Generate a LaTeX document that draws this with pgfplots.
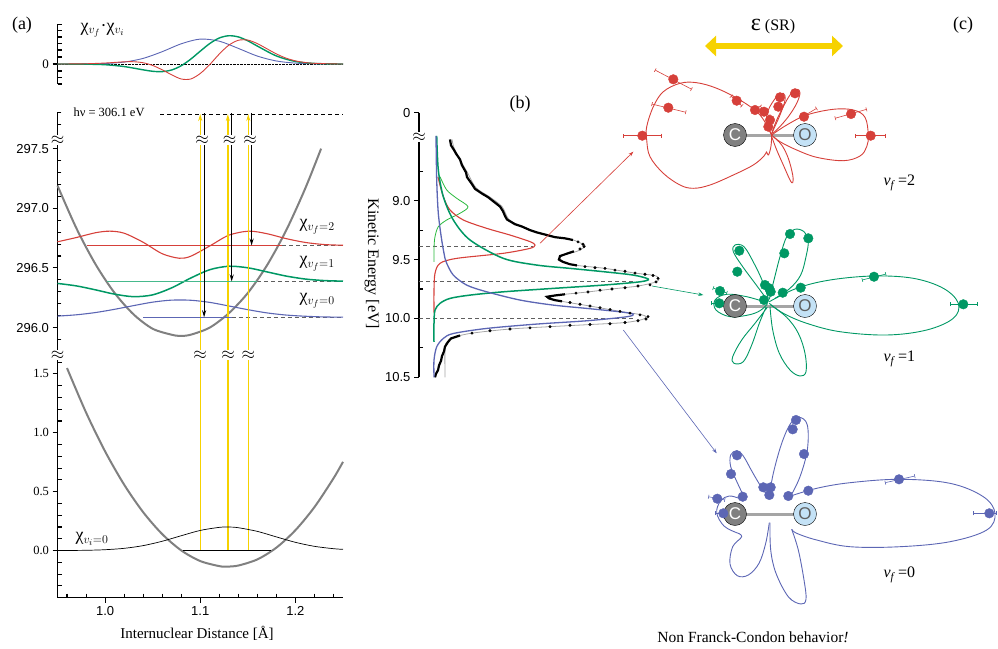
\documentclass[border=0pt]{standalone}
\usepackage{fontspec}
\setmainfont{Liberation Serif}
\setsansfont{Liberation Sans}
\usepackage{pgfplots}
\pgfplotsset{compat=1.18}
\usetikzlibrary{arrows.meta}
\definecolor{cred}{RGB}{214,64,58}
\definecolor{cgreen}{RGB}{0,152,100}
\definecolor{lgreen}{RGB}{70,185,140}
\definecolor{cblue}{RGB}{92,102,180}
\definecolor{cgray}{RGB}{128,128,128}
\definecolor{cyel}{RGB}{246,210,0}
\definecolor{clgreen}{RGB}{40,185,60}
\definecolor{oblue}{RGB}{196,226,246}
\definecolor{dgray}{RGB}{95,95,95}
\definecolor{bgray}{RGB}{165,165,165}
\newcommand{\fs}[1]{\fontsize{#1}{#1}\selectfont}
\newcommand{\brk}[2]{\node[fill=white, inner sep=0.4pt] at (axis cs:#1,#2) {\fs{16}$\approx$};}
\pgfplotsset{
  pa/.style={scale only axis, anchor=south west, clip=false,
    width=285.5pt, xmin=0.95, xmax=1.25,
    axis line style={line width=1.5pt},
    tick style={line width=1.1pt, black},
    tick align=outside, major tick length=5pt, minor tick length=-4pt},
  lobe/.style={smooth, tension=0.6, line width=0.9pt},
  ebar/.style={line width=0.6pt, arrows={Bar[width=4pt]-Bar[width=4pt]}},
  pix/.style={scale only axis, anchor=south west, at={(0pt,0pt)}, width=998pt, height=648pt,
    xmin=0, xmax=998, ymin=0, ymax=648, y dir=reverse, hide axis, clip=false},
}
\begin{document}
\begin{tikzpicture}
\useasboundingbox (0pt,0pt) rectangle (998pt,648pt);
% ---------------- (a) top: products
\begin{axis}[pa, at={(57.5pt,564pt)}, height=60pt, ymin=-20, ymax=40,
  axis x line=none, axis y line*=left, ytick={0}, yticklabels={0},
  minor ytick={-20,-13.5,-7,7,14,20.5,27,33.5,39.5},
  yticklabel style={font=\fs{13}}]
\addplot[black, densely dotted, line width=0.4pt] coordinates {(0.95,0) (1.25,0)};
\addplot[cblue, line width=0.9pt, smooth] coordinates {(0.95,0) (0.98,0.07) (1.00,0.48) (1.02,1.9) (1.04,5.6) (1.06,12.3) (1.08,20.2) (1.10,24.9) (1.12,22.8) (1.14,15.6) (1.16,7.9) (1.18,3.0) (1.20,0.86) (1.22,0.18) (1.24,0.02) (1.25,0)};
\addplot[cgreen, line width=1.4pt, smooth] coordinates {(0.95,0) (0.98,-0.2) (1.00,-0.72) (1.02,-2.54) (1.04,-5.85) (1.05,-7.3) (1.06,-7.63) (1.07,-5.97) (1.08,-1.76) (1.09,4.85) (1.10,12.82) (1.11,20.46) (1.12,26.0) (1.13,28.26) (1.14,27.07) (1.15,23.2) (1.16,17.93) (1.18,8.04) (1.20,2.50) (1.22,0.55) (1.24,0.09) (1.25,0)};
\addplot[cred, line width=0.9pt, smooth] coordinates {(0.95,0) (0.96,0.03) (0.98,0.23) (1.00,0.96) (1.01,1.57) (1.02,2.16) (1.03,2.27) (1.04,1.25) (1.05,-1.45) (1.06,-5.82) (1.07,-10.8) (1.08,-15.0) (1.09,-15.0) (1.10,-9.5) (1.11,-0.53) (1.12,9.97) (1.13,18.8) (1.14,23.7) (1.15,23.9) (1.16,20.4) (1.17,15.25) (1.18,10.1) (1.19,5.94) (1.20,3.14) (1.21,1.49) (1.22,0.64) (1.24,0.1) (1.25,0)};
\end{axis}
% ---------------- (a) middle: core-excited state
\begin{axis}[pa, at={(57.5pt,293pt)}, height=243pt, ymin=295.77, ymax=297.807,
  axis x line=none, axis y line*=left,
  ytick={296,296.5,297,297.5}, yticklabels={296.0,296.5,297.0,297.5},
  minor ytick={295.8,295.9,296.1,296.2,296.3,296.4,296.6,296.7,296.8,296.9,297.1,297.2,297.3,297.4,297.6,297.7,297.8},
  yticklabel style={font=\sffamily\fs{13}}]
\addplot[black, line width=0.7pt, dash pattern=on 4pt off 3pt] coordinates {(1.058,297.79) (1.25,297.79)};
\addplot[dgray, line width=0.7pt, dash pattern=on 4pt off 3pt] coordinates {(1.133,296.086) (1.25,296.086)};
\addplot[dgray, line width=0.7pt, dash pattern=on 4pt off 3pt] coordinates {(1.160,296.386) (1.25,296.386)};
\addplot[dgray, line width=0.7pt, dash pattern=on 4pt off 3pt] coordinates {(1.186,296.687) (1.25,296.687)};
\addplot[cgray, line width=2pt, smooth] coordinates {(0.95,297.19) (0.97,296.83) (0.99,296.53) (1.01,296.29) (1.03,296.11) (1.05,295.99) (1.07,295.94) (1.079,295.93) (1.09,295.94) (1.11,296.00) (1.13,296.12) (1.15,296.29) (1.17,296.52) (1.19,296.81) (1.21,297.16) (1.227,297.50)};
\addplot[cblue, line width=1.1pt, smooth] coordinates {(0.95,296.096) (0.97,296.107) (0.99,296.126) (1.01,296.153) (1.03,296.184) (1.05,296.213) (1.07,296.230) (1.09,296.229) (1.11,296.211) (1.13,296.181) (1.15,296.150) (1.17,296.123) (1.19,296.105) (1.21,296.095) (1.23,296.089) (1.25,296.087)};
\addplot[cgreen, line width=1.5pt, smooth] coordinates {(0.95,296.370) (0.97,296.349) (0.99,296.316) (1.01,296.280) (1.03,296.259) (1.05,296.274) (1.07,296.333) (1.09,296.415) (1.11,296.485) (1.13,296.514) (1.15,296.501) (1.17,296.467) (1.19,296.432) (1.21,296.407) (1.23,296.394) (1.25,296.389)};
\addplot[cred, line width=1.1pt, smooth] coordinates {(0.95,296.719) (0.97,296.755) (0.99,296.795) (1.005,296.808) (1.02,296.791) (1.04,296.715) (1.06,296.619) (1.078,296.581) (1.09,296.598) (1.11,296.684) (1.13,296.774) (1.151,296.808) (1.17,296.787) (1.19,296.746) (1.21,296.714) (1.23,296.696) (1.25,296.690)};
\addplot[cyel, line width=1.4pt, -{Stealth[length=7pt,width=4pt]}] coordinates {(1.100,295.77) (1.100,297.79)};
\addplot[cyel, line width=1.4pt, -{Stealth[length=7pt,width=4pt]}] coordinates {(1.129,295.77) (1.129,297.79)};
\addplot[cyel, line width=1.4pt, -{Stealth[length=7pt,width=4pt]}] coordinates {(1.1505,295.77) (1.1505,297.79)};
\end{axis}
% ---------------- (a) bottom: ground state
\begin{axis}[pa, at={(57.5pt,50.3pt)}, height=242.7pt, ymin=-0.4, ymax=1.66,
  axis x line*=bottom, axis y line*=left,
  xtick={1.0,1.1,1.2}, xticklabels={1.0,1.1,1.2},
  minor xtick={0.96,0.98,1.02,1.04,1.06,1.08,1.12,1.14,1.16,1.18,1.22,1.24},
  ytick={0,0.5,1,1.5}, yticklabels={0.0,0.5,1.0,1.5},
  minor ytick={-0.3,-0.2,-0.1,0.1,0.2,0.3,0.4,0.6,0.7,0.8,0.9,1.1,1.2,1.3,1.4,1.6},
  xticklabel style={font=\sffamily\fs{13}}, yticklabel style={font=\fs{12.5}}]
\addplot[cyel, line width=1.4pt] coordinates {(1.100,0) (1.100,1.66)};
\addplot[cyel, line width=1.4pt] coordinates {(1.129,0) (1.129,1.66)};
\addplot[cyel, line width=1.4pt] coordinates {(1.1505,0) (1.1505,1.66)};
\addplot[cgray, line width=2pt, smooth] coordinates {(0.96,1.549) (0.98,1.172) (1.00,0.842) (1.02,0.560) (1.04,0.326) (1.06,0.140) (1.08,0.0015) (1.10,-0.089) (1.12,-0.132) (1.128,-0.136) (1.14,-0.127) (1.16,-0.075) (1.18,0.025) (1.20,0.173) (1.22,0.369) (1.24,0.613) (1.25,0.753)};
\addplot[black, line width=0.7pt, smooth] coordinates {(0.95,0.000) (0.98,0.0024) (1.00,0.0074) (1.02,0.019) (1.04,0.042) (1.06,0.079) (1.08,0.126) (1.10,0.171) (1.12,0.197) (1.13,0.200) (1.14,0.194) (1.16,0.163) (1.18,0.116) (1.20,0.070) (1.22,0.036) (1.24,0.016) (1.25,0.0105)};
\addplot[black, line width=1.5pt] coordinates {(1.082,0) (1.174,0)};
\end{axis}
% ---------------- (b) spectrum
\begin{axis}[scale only axis, anchor=south west, clip=false, at={(419pt,270.7pt)},
  width=240pt, height=264.6pt, xmin=-1, xmax=239, ymin=8.253, ymax=10.5, y dir=reverse,
  axis x line=none, axis y line*=left,
  axis line style={line width=1.5pt}, tick style={line width=1.1pt,black},
  tick align=outside, major tick length=5pt, minor tick length=-4pt,
  ytick={9,9.5,10,10.5}, yticklabels={9.0,9.5,10.0,10.5},
  extra y ticks={8.253}, extra y tick labels={0},
  minor ytick={8.75,9.25,9.75,10.25},
  yticklabel style={font=\sffamily\fs{13}}]
\addplot[dgray, line width=0.7pt, dash pattern=on 4pt off 3pt] coordinates {(-1,9.385) (113,9.385)};
\addplot[dgray, line width=0.7pt, dash pattern=on 4pt off 3pt] coordinates {(-1,9.689) (215,9.689)};
\addplot[dgray, line width=0.7pt, dash pattern=on 4pt off 3pt] coordinates {(-1,10.0) (213,10.0)};
% fit (grey) and data (black)
\addplot[bgray, line width=0.8pt, smooth] coordinates {(32,8.48) (34,8.55) (40,8.65) (48,8.77) (56,8.89) (70,8.97) (82,9.05) (89,9.16) (102,9.22) (118,9.27) (136,9.31) (153,9.334) (163,9.37) (165,9.39) (157,9.43) (144,9.46) (138,9.50) (145,9.53) (157,9.55) (185,9.575) (215,9.615) (234,9.635) (239,9.66) (236,9.69) (218,9.725) (192,9.75) (168,9.775) (145,9.795) (129,9.812) (129,9.83) (142,9.855) (170,9.895) (200,9.94) (222,9.97) (226,9.99) (222,10.01) (205,10.035) (170,10.052) (130,10.07) (90,10.09) (52,10.125) (34,10.16) (27,10.20) (25,10.25) (25,10.5)};
\addplot[black, line width=2.2pt] coordinates {(30,8.48) (31,8.53) (34,8.57) (36,8.60) (40,8.65) (42,8.70) (46,8.76) (47,8.80) (52,8.86) (55,8.90) (62,8.94) (68,8.97) (74,9.01) (80,9.05) (83,9.09) (85,9.13) (87,9.16) (95,9.20) (102,9.22) (110,9.25) (117,9.27) (126,9.29) (135,9.31) (145,9.32) (153,9.334)};
\addplot[black, line width=2.2pt] coordinates {(154,9.43) (147,9.45) (140,9.47) (139,9.50) (143,9.52) (150,9.54) (157,9.55)};
\addplot[black, line width=2.2pt] coordinates {(145,9.795) (135,9.805) (127,9.816) (129,9.83) (135,9.845) (142,9.855)};
\addplot[black, line width=2.2pt] coordinates {(40,10.145) (31,10.17) (28,10.20) (25,10.24) (24,10.28) (22,10.32) (21,10.36) (19,10.40) (18,10.44) (16,10.47) (15,10.50)};
\addplot[black, only marks, mark=*, mark size=1.3pt] coordinates {(158,9.35) (163,9.37) (164,9.39) (160,9.41) (165,9.56) (175,9.57) (185,9.575) (195,9.59) (205,9.60) (215,9.615) (225,9.625) (233,9.635) (238,9.66) (236,9.69) (230,9.715) (218,9.725) (205,9.74) (192,9.75) (180,9.76) (168,9.775) (156,9.785) (150,9.865) (160,9.88) (170,9.895) (180,9.91) (190,9.925) (200,9.94) (210,9.955) (220,9.97) (228,9.985) (226,10.005) (218,10.02) (205,10.035) (190,10.045) (170,10.052) (150,10.058) (130,10.07) (110,10.08) (90,10.09) (70,10.105) (52,10.125)};
% fitted components
\addplot[clgreen, line width=0.8pt, smooth] coordinates {(20,8.796) (26.7,8.909) (36.7,8.98) (48,9.051) (40,9.107) (26.7,9.164) (18.3,9.221) (15,9.306) (14,9.4) (14,9.52)};
\addplot[cred, line width=1.1pt, smooth] coordinates {(18,8.8) (23.3,8.966) (30,9.079) (43.3,9.164) (66.7,9.235) (90,9.292) (110,9.348) (115,9.377) (110,9.405) (83.3,9.447) (36.7,9.49) (20,9.532) (15,9.617) (14,9.76) (14,9.95)};
\addplot[cgreen, line width=1.5pt, smooth] coordinates {(16.7,8.45) (18.3,8.739) (23.3,8.966) (33.3,9.164) (50,9.334) (83.3,9.49) (116.7,9.547) (150,9.575) (183.3,9.603) (213.3,9.632) (228.3,9.666) (220,9.689) (183.3,9.717) (133.3,9.745) (83.3,9.774) (50,9.802) (30,9.83) (20,9.872) (15,9.93) (14,10.04) (14,10.2)};
\addplot[cblue, line width=1.3pt, smooth] coordinates {(16,8.45) (16.7,8.824) (18.3,9.107) (21.7,9.334) (25,9.49) (26.7,9.532) (33.3,9.632) (46.7,9.717) (66.7,9.774) (100,9.844) (133.3,9.887) (166.7,9.915) (200,9.944) (213.3,9.963) (206.7,9.986) (166.7,10.020) (116.7,10.048) (66.7,10.085) (33.3,10.128) (23.3,10.17) (16.7,10.241) (14,10.355) (14,10.5)};
\end{axis}
% ---------------- (c) polar plots (pixel frame)
\begin{axis}[pix]
% vibrational levels of panel (a) and the emission arrows
\addplot[draw=cred, line width=1.1pt, solid] coordinates {(87.0,245.6) (282.1,245.6)};
\addplot[draw=lgreen, line width=1.3pt, solid] coordinates {(107.3,281.5) (257.4,281.5)};
\addplot[draw=cblue, line width=1.1pt, solid] coordinates {(143.0,317.3) (231.9,317.3)};
\addplot[black, line width=1.2pt, -{Stealth[length=7pt,width=4pt]}] coordinates {(204.1,113) (204.1,317.3)};
\addplot[black, line width=1.2pt, -{Stealth[length=7pt,width=4pt]}] coordinates {(231.7,113) (231.7,281.5)};
\addplot[black, line width=1.2pt, -{Stealth[length=7pt,width=4pt]}] coordinates {(251.6,113) (251.6,245.6)};
% arrows from (b) to (c)
\addplot[cred, line width=0.6pt, -{Stealth[length=5pt,width=3.5pt]}] coordinates {(540,243.3) (633.3,151.7)};
\addplot[cgreen, line width=0.6pt, -{Stealth[length=5pt,width=3.5pt]}] coordinates {(652,286) (703.3,295)};
\addplot[cblue, line width=0.6pt, -{Stealth[length=5pt,width=3.5pt]}] coordinates {(623.3,330) (716.7,453.3)};
% polarization arrow
\addplot[cyel, line width=6pt, arrows={Triangle[length=11pt,width=20pt]-Triangle[length=11pt,width=20pt]}] coordinates {(705,46) (843,46)};
% molecules
\addplot[bgray, line width=3pt] coordinates {(735,135) (805,135)};
\addplot[bgray, line width=3pt] coordinates {(735,306) (805,306)};
\addplot[bgray, line width=3pt] coordinates {(735,514) (805,514)};
\addplot[only marks, mark=*, mark size=11.5pt, mark options={fill=cgray, draw=none}] coordinates {(735,135) (735,306) (735,514)};
\addplot[only marks, mark=*, mark size=11.5pt, mark options={fill=oblue, draw=none}] coordinates {(805,135) (805,306) (805,514)};
% red v_f=2
\addplot[cred, lobe] coordinates {(771.7,135) (760,115) (740,100) (716.7,88.3) (696.7,82.7) (680,83.3) (663.3,91.7) (653.3,106.7) (646.7,126.7) (646.7,140) (650,156.7) (663.3,173.3) (680,185) (693.3,188.3) (710,185) (733.3,175) (753.3,165) (764,156) (766.5,152) (768.5,155) (771,146) (771.7,135)};
\addplot[cred, lobe] coordinates {(771.7,136.7) (776.7,150) (783.3,165) (790,180) (792.7,182.7) (792.7,175) (788.3,158.3) (781.7,145) (773.3,136.7)};
\addplot[cred, lobe] coordinates {(771.7,133.3) (776.7,120) (783.3,106.7) (790,95) (796.7,89.3) (800,92.7) (796.7,103.3) (788.3,116.7) (778.3,128.3) (772.7,133.3)};
\addplot[cred, lobe] coordinates {(771.7,135) (766.7,123.3) (768.3,110) (776.7,96.7) (783.3,93.3) (785,100) (780,115) (773.3,130) (771.7,135)};
\addplot[cred, lobe] coordinates {(771.7,135) (786.7,125) (806.7,115) (833.3,109.3) (853.3,110) (865,117.3) (868.3,135) (866.7,146.7) (860,156) (843.3,160.7) (816.7,157.3) (796.7,150) (780,141.7) (771.7,135)};
\addplot[cred, ebar] coordinates {(623.3,135.7) (661.7,135.7)};
\addplot[cred, ebar] coordinates {(655,70) (691.7,89.3)};
\addplot[cred, ebar] coordinates {(651.7,104) (686,112.3)};
\addplot[cred, ebar] coordinates {(855,135.7) (886,135.7)};
\addplot[cred, ebar] coordinates {(835,118.3) (866.7,109.3)};
\addplot[cred, ebar] coordinates {(800,118.3) (816.7,108.3)};
\addplot[cred, ebar] coordinates {(731,96) (742,106)};
\addplot[cred, ebar] coordinates {(760,106) (769,116)};
\addplot[cred, only marks, mark=*, mark size=4.8pt] coordinates {(673.3,79.3) (668.3,107.7) (642.3,135.7) (736.7,100.7) (755,110) (764,111.7) (770,120) (768.3,126.7) (778.3,106.7) (780,97.3) (795,93.3) (804,116.7) (851,114) (870.7,135.7)};
% green v_f=1
\addplot[cgreen, lobe] coordinates {(769.3,301.7) (796.7,288.3) (830,280) (873.3,276) (913.3,278.3) (943.3,288.3) (958.3,303.3) (953.3,318.3) (926.7,330) (886.7,335) (840,331.7) (806.7,323.3) (783.3,313.3) (769.3,303.3)};
\addplot[cgreen, lobe] coordinates {(770,306.7) (772.7,330) (779.3,353.3) (790,370) (800,376) (806,371.7) (805,353.3) (798.3,333.3) (786.7,317.3) (770.7,305)};
\addplot[cgreen, lobe] coordinates {(767.3,307.3) (755,323.3) (741.7,340) (732.7,356.7) (734,363.3) (743.3,361.7) (751.7,345) (759.3,323.3) (766,307.3)};
\addplot[cgreen, lobe] coordinates {(767.3,302.7) (746.7,296.7) (726.7,294.3) (715,300) (716,310) (730,316.7) (748.3,315) (760,310.7) (767.3,304)};
\addplot[cgreen, lobe] coordinates {(767.3,300) (755,283.3) (742.7,266.7) (733.3,251.7) (735,245) (744,246.7) (754,263.3) (762.7,281.7) (768.3,298.3)};
\addplot[cgreen, lobe] coordinates {(769.3,299.3) (774,280) (780,256.7) (786.7,236.7) (795,229.3) (804,231.7) (808.3,240.7) (806,256.7) (800.7,275) (790,288.3) (775,298.3)};
\addplot[cgreen, ebar] coordinates {(950,304.3) (978,304.3)};
\addplot[cgreen, ebar] coordinates {(862,280) (886,274)};
\addplot[cgreen, ebar] coordinates {(711,303.3) (727,303.3)};
\addplot[cgreen, ebar] coordinates {(713,288) (727,293)};
\addplot[cgreen, only marks, mark=*, mark size=4.8pt] coordinates {(720,291) (719.3,303.3) (737.3,271.7) (739.3,250.7) (765,285) (769.3,288.3) (770.7,291.7) (764,300) (782.7,292.7) (800.7,287.7) (784.3,253.3) (790,234) (808.3,238.3) (874,276.7) (963.3,304.3)};
% blue v_f=0
\addplot[cblue, lobe] coordinates {(769.3,496.7) (773.3,473.3) (781.7,443.3) (790.7,423.3) (799.3,417.3) (807.3,425) (807.3,450) (800,476.7) (790.7,496)};
\addplot[cblue, lobe] coordinates {(790.7,496) (816.7,488.3) (850,482.7) (900,479.3) (950,483.3) (983.3,496.7) (995,513.3) (986.7,530) (950,541.7) (900,546.7) (850,546.7) (816.7,540) (796.7,533.3) (791.7,529.3)};
\addplot[cblue, lobe] coordinates {(791.7,529.3) (798.3,550) (804,580) (806,599.3) (800.7,604) (788.3,596.7) (776,573.3) (770.7,550) (770,522.7)};
\addplot[cblue, lobe] coordinates {(769.3,522.7) (765.7,543.3) (759,563.3) (748.3,575) (737.3,575.7) (730,564) (732.7,546.7) (741.7,536.7) (736.7,532.7)};
\addplot[cblue, lobe] coordinates {(736.7,532.7) (724,526) (716.7,512.7) (720.7,500.7) (729.3,496) (740,498.3) (744,496.7)};
\addplot[cblue, lobe] coordinates {(744,496.7) (737.3,482.7) (730.7,466.7) (730.7,455) (736.7,450.7) (743.3,456) (752.7,472.7) (762.7,489.3) (769.3,496.7)};
\addplot[cblue, ebar] coordinates {(973.3,513.3) (996.7,513.3)};
\addplot[cblue, ebar] coordinates {(885,482.7) (915,476)};
\addplot[cblue, ebar] coordinates {(715,513.3) (730,513.3)};
\addplot[cblue, ebar] coordinates {(708.3,496.7) (725,500)};
\addplot[cblue, only marks, mark=*, mark size=4.8pt] coordinates {(723.3,513.3) (717.3,498.7) (742.7,496.7) (731,474) (737,455.3) (763.3,487.3) (770.7,487.3) (769.3,495) (788.3,496) (808.3,490.7) (899,479.3) (989.3,513.3) (804,454) (792.7,429.3) (796,420)};
\end{axis}
% ---------------- texts on top (pixel frame)
\begin{axis}[pix]
\addplot[draw=none] coordinates {(0,0)};
\node[white, font=\sffamily\fs{17}] at (axis cs:735,135) {C};
\node[white, font=\sffamily\fs{17}] at (axis cs:735,306) {C};
\node[white, font=\sffamily\fs{17}] at (axis cs:735,514) {C};
\node[dgray, font=\sffamily\fs{17}] at (axis cs:805,135) {O};
\node[dgray, font=\sffamily\fs{17}] at (axis cs:805,306) {O};
\node[dgray, font=\sffamily\fs{17}] at (axis cs:805,514) {O};
\brk{57.5}{140}
\brk{57.5}{355}
\brk{419}{137}
\brk{202}{140}
\brk{229.5}{140}
\brk{250}{140}
\brk{200}{355}
\brk{228}{355}
\brk{248.3}{355}
\node[font=\fs{18}] at (axis cs:22,25) {(a)};
\node[anchor=base west, font=\fs{18}] at (axis cs:77,31) {χ$_{v_f}$·χ$_{v_i}$};
\node[anchor=west, font=\fs{12.5}] at (axis cs:70,112) {hν = 306.1 eV};
\node[anchor=west, font=\fs{18}] at (axis cs:296,227) {χ$_{v_f=2}$};
\node[anchor=west, font=\fs{18}] at (axis cs:296,264) {χ$_{v_f=1}$};
\node[anchor=west, font=\fs{18}] at (axis cs:296,301) {χ$_{v_f=0}$};
\node[anchor=west, font=\fs{18}] at (axis cs:72,539) {χ$_{v_i=0}$};
\node[font=\fs{15}] at (axis cs:197,633) {Internuclear Distance [Å]};
\node[rotate=-90, font=\fs{16}] at (axis cs:372,264) {Kinetic Energy [eV]};
\node[font=\fs{18}] at (axis cs:520,104) {(b)};
\node[font=\fs{18}] at (axis cs:963,25) {(c)};
\node[font=\fs{16}] at (axis cs:773,27) {{\fs{24}ε} (SR)};
\node[anchor=west, font=\fs{16}] at (axis cs:880,183) {\textit{v}\textsubscript{\textit{f}}\,=2};
\node[anchor=west, font=\fs{16}] at (axis cs:880,359) {\textit{v}\textsubscript{\textit{f}}\,=1};
\node[anchor=west, font=\fs{16}] at (axis cs:880,575) {\textit{v}\textsubscript{\textit{f}}\,=0};
\node[font=\fs{15.5}] at (axis cs:753,637) {Non Franck-Condon behavior\textit{!}};
\end{axis}
\end{tikzpicture}
\end{document}
